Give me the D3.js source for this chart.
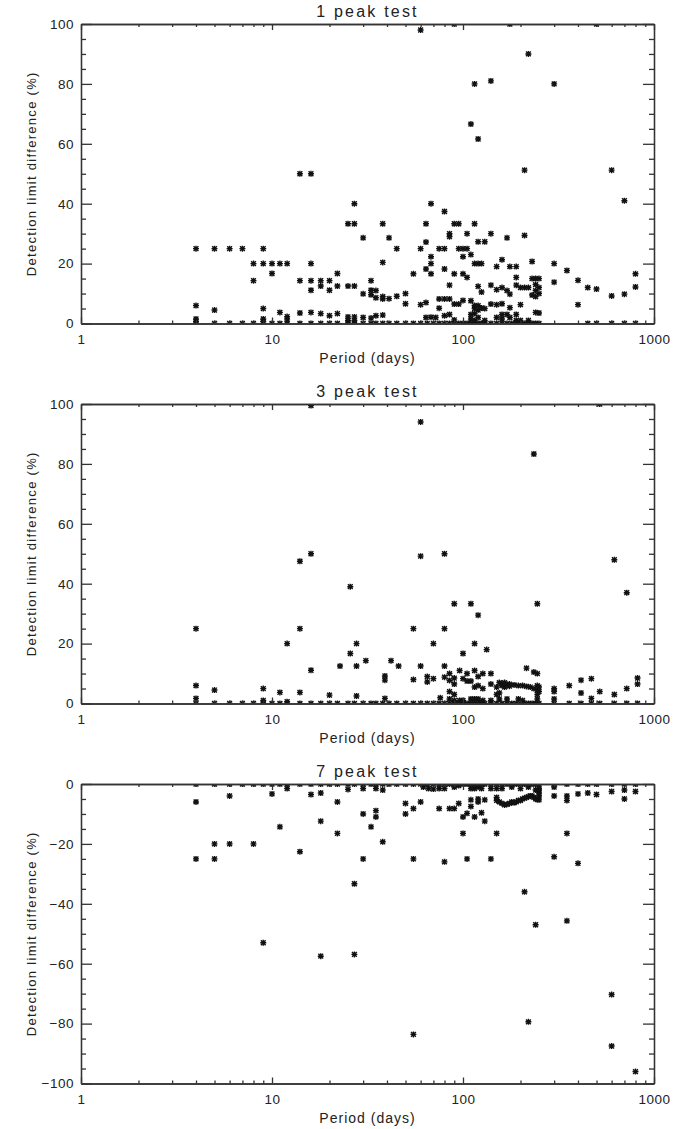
<!DOCTYPE html>
<html>
<head>
<meta charset="utf-8">
<script src="https://cdn.jsdelivr.net/npm/d3@7"></script>
<style>
  body { margin: 0; background: #fff; }
  text { font-family: "Liberation Sans", Arial, sans-serif; fill: #222; }
</style>
</head>
<body>
<svg id="chart" width="696" height="1129"></svg>
<script>
// periods (days) where the difference sits at zero, common to the three tests
const zeroPeriods = [4,5,6,7,8,9,10,11,12,14,16,18,20,22,25,27,30,33,35,38,41,45,50,55,60,65,70,75,
  80,85,90,95,100,105,110,115,120,125,130,140,150,160,170,180,190,200,210,220,230,240,250];
const zeroTail1 = [450,500,600,700,800];
const zeroTail3 = [300,360,415,470,520,620,720,820];
const zeroTail7 = [300,350,400,450,500,600,700,800];

// [period, detection limit difference %]
const peak1 = [
  [4,25],[4,6],[4,1.5],[4,0.6],[5,25],[5,4.5],[6,25],[7,25],[8,20],[8,14.3],
  [9,25],[9,20],[9,5],[9,1.5],[9,0.7],[10,20],[10,16.7],[11,20],[11,3.7],
  [12,20],[12,2.3],[12,1.2],[14,50],[14,14.3],[14,3.5],
  [16,50],[16,20],[16,14.3],[16,11.1],[16,3.7],[18,14.3],[18,12.5],[18,3.3],
  [20,14.3],[20,11.1],[20,2.6],[22,16.7],[22,12.5],[22,3.3],
  [25,33.3],[25,12.5],[25,2.2],[25,1],[27,40],[27,33.3],[27,12.5],[27,2.2],[27,1],
  [30,28.6],[30,9.9],[30,2],[33,14.3],[33,11.1],[33,9.6],[33,1.8],
  [35,11],[35,8.6],[35,2.6],[38,33.3],[38,20.4],[38,9],[38,8.2],[38,2.8],
  [41,28.6],[41,8.3],[45,25],[45,9.1],[50,10],[50,6.6],[55,16.6],
  [60,98],[60,25],[60,6.3],[64,33.3],[64,27.2],[64,18.2],[64,7],[64,2],
  [68,40],[68,22.3],[68,20],[68,16.6],[68,2.1],[72,2],
  [75,25],[75,8.2],[75,5.1],[80,37.4],[80,25],[80,18.2],[80,8.2],[80,2.6],
  [85,30],[85,29],[85,12.8],[85,8.2],[85,3],[90,100],[90,33.3],[90,16.6],[90,6.5],[90,1.2],
  [95,33.3],[95,25],[95,6.5],[100,25],[100,22.3],[100,16.6],[100,7.7],
  [105,30],[105,25],[105,15.4],[110,66.6],[110,23],[110,7.6],[110,3],[110,1.5],
  [115,80],[115,33.3],[115,20],[115,6],[115,5],[115,3.3],[115,1],
  [120,61.6],[120,27.3],[120,20],[120,12.4],[120,6],[120,4.5],[120,2],
  [125,20],[125,10.5],[125,5.2],[130,27.3],[130,5],[130,1],
  [140,81],[140,30],[140,12.8],[140,6.5],[150,19],[150,11.3],[150,6.3],[150,2],
  [160,21.3],[160,12],[160,6.6],[160,3],[160,1.5],[170,28.6],[170,11],[170,3],
  [176,100],[176,19],[176,9.8],[176,5.3],[176,2],[190,19],[190,15.4],[190,12.8],[190,3],[190,1],
  [200,12],[200,6.3],[200,1],[210,51.2],[210,29.4],[210,12],[220,90],[220,12],[220,1],
  [230,20.7],[230,15],[230,9.5],[240,15],[240,13],[240,11],[240,9],[240,3.7],
  [250,15],[250,12],[250,10],[250,3.5],[300,80],[300,20],[300,13.8],[350,17.7],
  [400,14.4],[400,6.3],[450,12],[500,100],[500,11.5],[600,51.2],[600,9.2],
  [700,41],[700,9.8],[800,16.6],[800,12.2]
];

const peak3 = [
  [4,25],[4,6],[4,1.7],[5,4.5],[9,5],[9,1],[11,3.7],[12,20],[12,0.6],
  [14,47.5],[14,25],[14,3.7],[16,99.5],[16,50],[16,11.1],[20,2.8],[22.7,12.5],
  [25.7,39],[25.7,16.7],[27.7,20],[27.7,12.5],[27.7,2.5],[31,14.3],
  [39,9.2],[39,7.8],[39,1.7],[42,14.3],[46,12.5],[55,25],[55,8],
  [60,94],[60,49.2],[60,12.5],[65,9],[65,7.2],[70,20],[70,8.3],[76,1.9],
  [80,50],[80,25],[80,12.5],[80,8.8],[85,10],[85,7.7],[85,4],[85,1.5],
  [90,33.3],[90,8.5],[90,6.5],[90,3],[90,1],[96,11],[96,1],
  [100,16.7],[100,8.3],[100,1],[105,10],[105,7.5],[110,33.3],[110,7.5],[110,1.5],
  [115,20],[115,11],[115,5.5],[115,1.5],[120,29.5],[120,9],[120,6],[120,1.5],
  [127,10],[127,5],[127,1],[133,18],[140,10],[140,6.5],[140,1],
  [150,5.5],[150,3],[155,7],[155,3.5],[155,1.5],[160,6.5],[160,6],[165,7],[165,5.5],
  [170,6.3],[170,1.5],[175,6.5],[175,5.8],[185,6.2],[195,6],[195,1.5],[205,6],[205,1],
  [215,11.8],[215,5.7],[225,5.5],[235,83.3],[235,10.5],[235,5],
  [245,33.3],[245,10],[245,6],[245,4.5],[245,3],[245,1.5],[250,5.5],[250,4],
  [300,5],[300,4],[300,1.5],[360,6],[415,7.8],[415,3.5],[470,8.3],[470,1.7],
  [520,100],[520,4],[620,48],[620,3],[720,37],[720,5],[820,8.5],[820,6.5]
];

const peak7 = [
  [4,-6],[4,-25],[5,-20],[5,-25],[6,-4],[6,-20],[8,-20],[9,-53],[10,-3.3],[11,-14.3],
  [12,-1.5],[14,-22.6],[16,-3.5],[18,-3],[18,-12.4],[18,-57.5],[22,-6],[22,-16.5],
  [25,-1.8],[27,-33.3],[27,-56.9],[30,-1.5],[30,-10],[30,-25],[33,-14.3],
  [35,-1.5],[35,-8.9],[35,-11],[38,-2],[38,-19.3],[50,-6.5],[50,-10],
  [55,-8.2],[55,-25],[55,-83.6],[60,-6],[62,-1],[66,-1.5],[70,-1.7],
  [75,-8.2],[75,-1.5],[80,-26],[80,-1.5],[85,-8.2],[90,-8.2],[90,-1],[95,-6.5],[95,-0.5],
  [100,-11],[100,-16.5],[105,-9.8],[105,-25],[110,-5.3],[110,-7.5],[110,-1.5],
  [115,-11],[115,-1.5],[120,-5],[120,-6],[120,-1],[125,-9.6],[125,-1.5],
  [130,-5.3],[130,-12.4],[140,-25],[140,-1.5],[150,-4.5],[150,-5.5],[150,-16.5],[150,-1.5],
  [155,-6],[160,-6.5],[165,-7],[170,-6.8],[175,-6.5],[180,-6],[185,-6.3],[190,-6],
  [195,-5.5],[200,-5.5],[205,-5],[210,-4.7],[215,-4.5],[220,-4.2],[225,-4],[230,-4],
  [235,-4.5],[240,-5],[245,-5.2],[250,-5.3],
  [160,-1.5],[180,-1],[200,-1.5],[220,-1],[240,-2],[250,-3],[250,-2],[250,-1.5],[250,-4],
  [210,-36],[220,-79.4],[240,-47],[300,-1],[300,-4],[300,-24.3],
  [350,-4],[350,-5.5],[350,-16.5],[350,-45.7],[400,-3.3],[400,-26.5],[450,-3],[500,-3.5],
  [600,-2.5],[600,-70.3],[600,-87.5],[700,-2],[700,-5],[800,-2.5],[800,-96]
];

const xTicks = [1, 10, 100, 1000];
const xMinor = [2,3,4,5,6,7,8,9,20,30,40,50,60,70,80,90,200,300,400,500,600,700,800,900];

const panels = [
  {title: "1 peak test", data: peak1, zeros: zeroPeriods.concat(zeroTail1),
   yDomain: [0, 100], yTicks: [0, 20, 40, 60, 80, 100]},
  {title: "3 peak test", data: peak3, zeros: zeroPeriods.concat(zeroTail3),
   yDomain: [0, 100], yTicks: [0, 20, 40, 60, 80, 100]},
  {title: "7 peak test", data: peak7, zeros: zeroPeriods.concat(zeroTail7),
   yDomain: [-100, 0], yTicks: [-100, -80, -60, -40, -20, 0]}
];

const left = 81, right = 654, plotH = 299.5, top0 = 24, step = 380;
const svg = d3.select("#chart");
const x = d3.scaleLog().domain([1, 1000]).range([left, right]);

//asterisk symbol like IDL psym=2
const star = "M-3,0H3M0,-3V3M-2.4,-2.4L2.4,2.4M-2.4,2.4L2.4,-2.4";

panels.forEach((p, i) => {
  const top = top0 + i * step, bottom = top + plotH;
  const y = d3.scaleLinear().domain(p.yDomain).range([bottom, top]);
  const yMinor = d3.range(p.yDomain[0], p.yDomain[1] + 1, 5).filter(v => v % 20 !== 0);
  const g = svg.append("g");

  g.append("clipPath").attr("id", `clip${i}`)
    .append("rect").attr("x", left).attr("y", top)
    .attr("width", right - left).attr("height", plotH);

  // points (zeros row + the rest)
  const pts = p.zeros.map(d => [d, 0]).concat(p.data);
  g.append("g").attr("clip-path", `url(#clip${i})`)
    .selectAll("path").data(pts).join("path")
    .attr("d", star)
    .attr("transform", d => `translate(${x(d[0])},${y(d[1])})`)
    .attr("stroke", "#111").attr("stroke-width", 1.4).attr("fill", "none");

  // axes, ticks point inward
  const fmt = d3.format("d");
  const axes = [
    [d3.axisBottom(x).tickValues(xTicks).tickFormat(fmt).tickSize(-6).tickPadding(11), `translate(0,${bottom})`],
    [d3.axisBottom(x).tickValues(xMinor).tickFormat("").tickSize(-3), `translate(0,${bottom})`],
    [d3.axisTop(x).tickValues(xTicks).tickFormat("").tickSize(-6), `translate(0,${top})`],
    [d3.axisTop(x).tickValues(xMinor).tickFormat("").tickSize(-3), `translate(0,${top})`],
    [d3.axisLeft(y).tickValues(p.yTicks).tickFormat(fmt).tickSize(-11).tickPadding(7), `translate(${left},0)`],
    [d3.axisLeft(y).tickValues(yMinor).tickFormat("").tickSize(-5), `translate(${left},0)`],
    [d3.axisRight(y).tickValues(p.yTicks).tickFormat("").tickSize(-11), `translate(${right},0)`],
    [d3.axisRight(y).tickValues(yMinor).tickFormat("").tickSize(-5), `translate(${right},0)`]
  ];
  axes.forEach(([ax, tr]) => {
    const a = g.append("g").attr("transform", tr).call(ax.tickSizeOuter(0));
    a.selectAll("path, line").attr("stroke", "#333").attr("stroke-width", 1.3);
    a.selectAll("text").style("font-size", "13.5px").style("letter-spacing", "0.5px")
      .attr("fill", "#222");
  });

  g.append("text").attr("x", (left + right) / 2).attr("y", top - 7)
    .attr("text-anchor", "middle").style("font-size", "16px").style("letter-spacing", "2.2px")
    .text(p.title);

  g.append("text").attr("x", (left + right) / 2).attr("y", bottom + 39)
    .attr("text-anchor", "middle").style("font-size", "14px").style("letter-spacing", "1px")
    .text("Period (days)");

  g.append("text")
    .attr("transform", `translate(36,${(top + bottom) / 2}) rotate(-90)`)
    .attr("text-anchor", "middle").style("font-size", "13px").style("letter-spacing", "1.3px")
    .text("Detection limit difference (%)");
});
</script>
</body>
</html>
